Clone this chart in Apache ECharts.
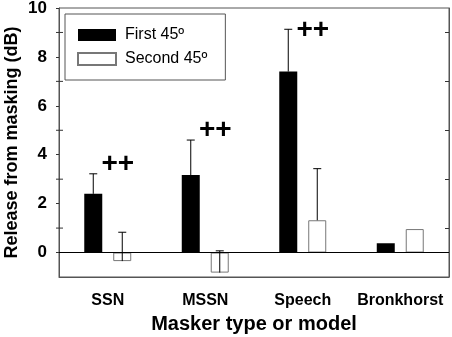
<!DOCTYPE html>
<html>
<head>
<meta charset="utf-8">
<script src="https://cdn.jsdelivr.net/npm/echarts@6/dist/echarts.min.js"></script>
<style>
  html, body { margin: 0; padding: 0; background: #fff; }
  #chart { width: 452px; height: 337px; }
</style>
</head>
<body>
<div id="chart"></div>
<script>
// data
const categories = ['SSN', 'MSSN', 'Speech', 'Bronkhorst'];
const firstVals = [2.4, 3.17, 7.4, 0.38];
const firstErr = [0.82, 1.43, 1.73, 0];
const secondVals = [-0.35, -0.82, 1.32, 0.96];
const secondErr = [1.18, 0.89, 2.11, 0];
const markText = ['++', '++', '++'];
const markY = [3.6, 5.0, 9.1];

const FONT = 'Arial, "Liberation Sans", sans-serif';
const BAR_W = 18;
const HALF_SPACING = 14.5; // px from category centre to each bar centre

const chart = echarts.init(document.getElementById('chart'));

// vertical error line, from the bar end upward, with a cap
function errRender(vals, errs, dx) {
  return function (params, api) {
    const i = api.value(0);
    if (!errs[i]) return;
    const p0 = api.coord([i, vals[i]]);
    const p1 = api.coord([i, vals[i] + errs[i]]);
    const x = p0[0] + dx;
    return {
      type: 'group',
      children: [
        { type: 'line', shape: { x1: x, y1: p0[1], x2: x, y2: p1[1] }, style: { stroke: '#000', lineWidth: 1 } },
        { type: 'line', shape: { x1: x - 4, y1: p1[1], x2: x + 4, y2: p1[1] }, style: { stroke: '#000', lineWidth: 1 } }
      ]
    };
  };
}

const option = {
  animation: false,
  grid: {
    left: 59, right: 3, top: 8, bottom: 60,
    outerBoundsMode: 'none',
    show: true, borderColor: '#555', borderWidth: 1
  },
  legend: {
    left: 65, top: 14,
    orient: 'vertical',
    data: ['First 45º', 'Second 45º'],
    icon: 'rect',
    itemWidth: 38, itemHeight: 12, itemGap: 8,
    padding: [13, 18, 13, 12],
    borderColor: '#555', borderWidth: 1,
    textStyle: { fontFamily: FONT, fontSize: 16, color: '#000', padding: [0, 0, 0, 4] }
  },
  xAxis: {
    type: 'category',
    data: categories,
    axisLine: { onZero: false, lineStyle: { color: '#555' } },
    axisTick: { alignWithLabel: true, length: 4, lineStyle: { color: '#333' } },
    axisLabel: { interval: 0, margin: 16, fontFamily: FONT, fontSize: 16, fontWeight: 'bold', color: '#000' },
    name: 'Masker type or model',
    nameLocation: 'middle',
    nameMoveOverlap: false,
    nameGap: 37,
    nameTextStyle: { fontFamily: FONT, fontSize: 20, fontWeight: 'bold', color: '#000' }
  },
  yAxis: [{
    type: 'value',
    min: -1, max: 10, interval: 2,
    // -1 is not a multiple of 2, so ticks and labels use custom values
    axisLine: { show: true, lineStyle: { color: '#555' } },
    axisTick: { show: true, length: 3, customValues: [0, 2, 4, 6, 8, 10], lineStyle: { color: '#333' } },
    axisLabel: { margin: 12, customValues: [0, 2, 4, 6, 8, 10], fontFamily: FONT, fontSize: 17, fontWeight: 'bold', color: '#000' },
    splitLine: { show: false },
    name: 'Release from masking (dB)',
    nameLocation: 'middle',
    nameMoveOverlap: false,
    nameGap: 38,
    nameTextStyle: { fontFamily: FONT, fontSize: 18, fontWeight: 'bold', color: '#000' }
  }, {
    type: 'value',
    position: 'right',
    min: -1, max: 10,
    axisLine: { show: true, lineStyle: { color: '#555' } },
    axisTick: { show: true, inside: true, length: 4, customValues: [1, 3, 5, 7, 9], lineStyle: { color: '#333' } },
    axisLabel: { show: false },
    splitLine: { show: false }
  }],
  series: [
    {
      name: 'First 45º',
      type: 'bar',
      data: firstVals,
      barWidth: BAR_W,
      barGap: '61%',
      itemStyle: { color: '#000' },
      markLine: {
        silent: true,
        symbol: 'none',
        label: { show: false },
        lineStyle: { color: '#000', width: 1, type: 'solid' },
        data: [{ yAxis: 0 }]
      }
    },
    {
      name: 'Second 45º',
      type: 'bar',
      data: secondVals,
      barWidth: BAR_W,
      itemStyle: { color: '#fff', borderColor: '#777', borderWidth: 1 }
    },
    {
      type: 'custom',
      renderItem: errRender(firstVals, firstErr, -HALF_SPACING),
      data: categories.map((c, i) => [i]),
      z: 5
    },
    {
      type: 'custom',
      renderItem: errRender(secondVals, secondErr, HALF_SPACING),
      data: categories.map((c, i) => [i]),
      z: 5
    },
    {
      // left-side minor ticks at odd values crossing the axis
      type: 'custom',
      renderItem: function (params, api) {
        const v = api.value(0);
        const p = api.coord([0, v]);
        const x = params.coordSys.x;
        return { type: 'line', shape: { x1: x - 3, y1: p[1], x2: x + 4, y2: p[1] }, style: { stroke: '#333', lineWidth: 1 } };
      },
      data: [[1], [3], [5], [7], [9]],
      silent: true
    },
    {
      // "++" significance marks
      type: 'custom',
      silent: true,
      renderItem: function (params, api) {
        const i = api.value(0);
        const p = api.coord([i, api.value(1)]);
        return {
          type: 'text',
          x: p[0] + 10, y: p[1],
          style: {
            text: markText[i], fill: '#000',
            font: 'bold 28px ' + FONT,
            align: 'center', verticalAlign: 'middle'
          }
        };
      },
      data: markY.map((y, i) => [i, y]),
      z: 6
    }
  ]
};

chart.setOption(option);
</script>
</body>
</html>
